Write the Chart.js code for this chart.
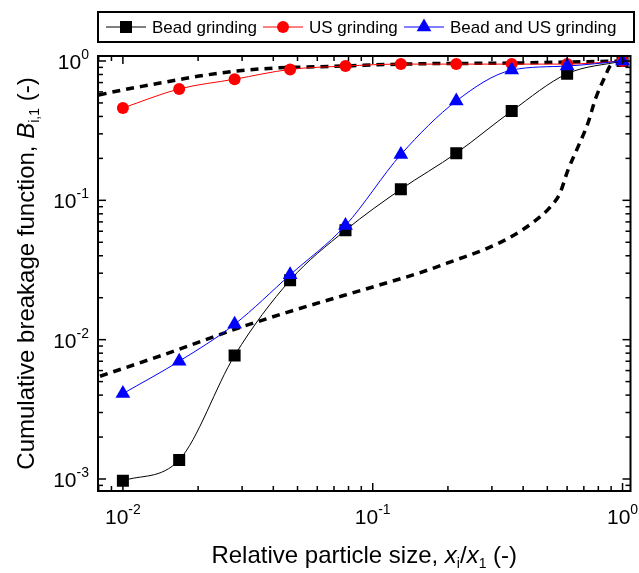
<!DOCTYPE html>
<html><head><meta charset="utf-8">
<script src="https://cdn.jsdelivr.net/npm/chart.js@4/dist/chart.umd.min.js"></script>
<style>html,body{margin:0;padding:0;background:#fff;}#wrap{width:639px;height:573px;position:relative;}</style>
</head><body><div id="wrap"><canvas id="c"></canvas></div>
<script>
// ---- data ----
const sizeRatio      = [0.01, 0.0168, 0.028, 0.0467, 0.0778, 0.1296, 0.216, 0.36, 0.6, 1.0];
const beadGrinding   = [0.00097, 0.00137, 0.0077, 0.0267, 0.061, 0.12, 0.218, 0.437, 0.81, 1.0];
const usGrinding     = [0.46, 0.63, 0.74, 0.87, 0.92, 0.95, 0.95, 0.95, 0.95, 1.0];
const beadUsGrinding = [0.0041, 0.0070, 0.0129, 0.0292, 0.066, 0.213, 0.516, 0.86, 0.92, 1.0];
const upperModelX = [0.0080, 0.01, 0.0128, 0.0164, 0.0212, 0.0351, 0.0772, 0.13, 0.36, 1.0];
const upperModelY = [0.57, 0.62, 0.673, 0.73, 0.79, 0.876, 0.92, 0.95, 0.967, 1.0];
const lowerModelX = [0.0081, 0.0164, 0.0274, 0.0454, 0.1057, 0.1525, 0.214, 0.282, 0.355, 0.45, 0.512, 0.561, 0.604, 0.662, 0.726, 0.78, 0.848, 0.896, 1.0];
const lowerModelY = [0.00546, 0.0084, 0.0117, 0.0157, 0.0246, 0.030, 0.0372, 0.0446, 0.0543, 0.072, 0.089, 0.112, 0.164, 0.240, 0.356, 0.538, 0.762, 0.93, 1.0];
const seriesNames = ['Bead grinding', 'US grinding', 'Bead and US grinding'];
const xTickExponents = [-2, -1, 0];
const yTickExponents = [-3, -2, -1, 0];
const xTitleParts = [['Relative particle size, ', 'n'], ['x', 'i'], ['i', 's'], ['/', 'n'], ['x', 'i'], ['1', 's'], [' (-)', 'n']];
const yTitleParts = [['Cumulative breakage function, ', 'n'], ['B', 'i'], ['i,1', 's'], [' (-)', 'n']];

const F = '"Liberation Sans", Arial, Helvetica, sans-serif';
const pts = (xs, ys) => xs.map((v, i) => ({x: v, y: ys[i]}));

function drawMarker(ctx, style, x, y, r, color) {
  ctx.fillStyle = color;
  ctx.beginPath();
  if (style === 'rect') {
    const s = Math.SQRT1_2 * r;
    ctx.rect(x - s, y - s, 2 * s, 2 * s);
  } else if (style === 'circle') {
    ctx.arc(x, y, r, 0, Math.PI * 2);
  } else {
    ctx.moveTo(x, y - r);
    ctx.lineTo(x + 0.866 * r, y + 0.5 * r);
    ctx.lineTo(x - 0.866 * r, y + 0.5 * r);
    ctx.closePath();
  }
  ctx.fill();
}

function richWidth(ctx, parts, size, sub) {
  let w = 0;
  for (const [t, k] of parts) {
    ctx.font = (k === 'i' ? 'italic ' : '') + (k === 's' ? sub : size) + 'px ' + F;
    w += ctx.measureText(t).width;
  }
  return w;
}
function drawRich(ctx, parts, x, y, size, sub, subDy) {
  let cx = x;
  for (const [t, k] of parts) {
    ctx.font = (k === 'i' ? 'italic ' : '') + (k === 's' ? sub : size) + 'px ' + F;
    ctx.fillText(t, cx, k === 's' ? y + subDy : y);
    cx += ctx.measureText(t).width;
  }
}

const decor = {
  id: 'decor',
  afterDraw(chart) {
    const {ctx, chartArea: a} = chart;
    const xs = chart.scales.x, ys = chart.scales.y;
    ctx.save();
    ctx.strokeStyle = '#000';
    ctx.lineWidth = 1.5;
    const seg = (x1, y1, x2, y2) => { ctx.beginPath(); ctx.moveTo(x1, y1); ctx.lineTo(x2, y2); ctx.stroke(); };
    for (let e = -4; e <= 0; e++) for (let m = 1; m <= 9; m++) {
      const v = m * Math.pow(10, e);
      if (v >= xs.min && v <= xs.max) {
        const p = xs.getPixelForValue(v), L = m === 1 ? 8 : 5;
        seg(p, a.bottom, p, a.bottom - L); seg(p, a.top, p, a.top + L);
      }
      if (v >= ys.min && v <= ys.max) {
        const p = ys.getPixelForValue(v), L = m === 1 ? 8 : 5;
        seg(a.left, p, a.left + L, p); seg(a.right, p, a.right - L, p);
      }
    }
    ctx.lineWidth = 2;
    ctx.strokeRect(a.left, a.top, a.right - a.left, a.bottom - a.top);

    // tick labels
    ctx.fillStyle = '#000';
    ctx.textBaseline = 'alphabetic';
    for (const e of xTickExponents) {
      const p = xs.getPixelForValue(Math.pow(10, e));
      ctx.font = '21px ' + F; const w1 = ctx.measureText('10').width;
      ctx.font = '14px ' + F; const w2 = ctx.measureText(String(e)).width;
      const x0 = p - (w1 + w2) / 2;
      ctx.font = '21px ' + F; ctx.fillText('10', x0, 524);
      ctx.font = '14px ' + F; ctx.fillText(String(e), x0 + w1, 514);
    }
    for (const e of yTickExponents) {
      const p = ys.getPixelForValue(Math.pow(10, e));
      ctx.font = '21px ' + F; const w1 = ctx.measureText('10').width;
      ctx.font = '14px ' + F; const w2 = ctx.measureText(String(e)).width;
      const x0 = 89 - w1 - w2;
      ctx.font = '21px ' + F; ctx.fillText('10', x0, p + 8);
      ctx.font = '14px ' + F; ctx.fillText(String(e), x0 + w1, p - 2);
    }

    // axis titles
    const xw = richWidth(ctx, xTitleParts, 24, 14);
    drawRich(ctx, xTitleParts, (a.left + a.right) / 2 - xw / 2, 563, 24, 14, 5);
    ctx.save();
    ctx.translate(34, (a.top + a.bottom) / 2);
    ctx.rotate(-Math.PI / 2);
    const yw = richWidth(ctx, yTitleParts, 24, 14);
    drawRich(ctx, yTitleParts, -yw / 2, 0, 24, 14, 5);
    ctx.restore();

    // legend
    ctx.lineWidth = 2;
    ctx.strokeRect(98, 12, 536, 30);
    const styles = [['rect', '#000', 8.5], ['circle', '#ff0000', 6], ['triangle', '#0000ff', 8.5]];
    const starts = [106, 263, 404];
    ctx.font = '17px ' + F;
    for (let i = 0; i < 3; i++) {
      const s = starts[i];
      ctx.strokeStyle = styles[i][1]; ctx.lineWidth = 1;
      seg(s, 27, s + 40, 27);
      drawMarker(ctx, styles[i][0], s + 20, 27, styles[i][2], styles[i][1]);
      ctx.fillStyle = '#000';
      ctx.fillText(seriesNames[i], s + 46, 33);
    }
    ctx.restore();
  }
};

new Chart(document.getElementById('c'), {
  type: 'scatter',
  data: {
    datasets: [
      {label: seriesNames[2], data: pts(sizeRatio, beadUsGrinding), order: 1, showLine: true,
       borderColor: '#0000ff', backgroundColor: '#0000ff', borderWidth: 1, pointStyle: 'triangle', pointRadius: 8.5,
       pointBorderWidth: 0, cubicInterpolationMode: 'monotone'},
      {label: seriesNames[1], data: pts(sizeRatio, usGrinding), order: 2, showLine: true,
       borderColor: '#ff0000', backgroundColor: '#ff0000', borderWidth: 1, pointStyle: 'circle', pointRadius: 6,
       pointBorderWidth: 0, cubicInterpolationMode: 'monotone'},
      {label: seriesNames[0], data: pts(sizeRatio, beadGrinding), order: 3, showLine: true,
       borderColor: '#000', backgroundColor: '#000', borderWidth: 1, pointStyle: 'rect', pointRadius: 8.5,
       pointBorderWidth: 0, cubicInterpolationMode: 'monotone'},
      {label: 'model upper', data: pts(upperModelX, upperModelY), order: 4, showLine: true,
       borderColor: '#000', borderWidth: 3.5, borderDash: [8, 6], pointRadius: 0, cubicInterpolationMode: 'monotone'},
      {label: 'model lower', data: pts(lowerModelX, lowerModelY), order: 5, showLine: true,
       borderColor: '#000', borderWidth: 3.5, borderDash: [8, 6], pointRadius: 0, cubicInterpolationMode: 'monotone'}
    ]
  },
  options: {
    responsive: true, maintainAspectRatio: false, animation: false,
    layout: {padding: {left: 98, right: 6, top: 56, bottom: 82}},
    plugins: {legend: {display: false}, tooltip: {enabled: false}},
    scales: {
      x: {type: 'logarithmic', min: 0.00795, max: 1.076, bounds: 'data', display: false},
      y: {type: 'logarithmic', min: 0.00082, max: 1.086, bounds: 'data', display: false}
    }
  },
  plugins: [decor]
});
</script></body></html>
